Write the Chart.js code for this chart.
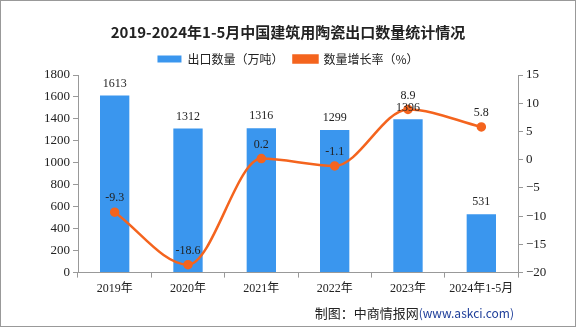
<!DOCTYPE html>
<html>
<head>
<meta charset="utf-8">
<script src="https://cdn.jsdelivr.net/npm/chart.js@4"></script>
<style>
	body { margin: 0; background: #fff; }
	#box { width: 574px; height: 325px; border: 1px solid #999; position: relative; }
</style>
</head>
<body>
<div id="box"><canvas id="grafico" width="574" height="325"></canvas></div>
<script>
var categorias = ["2019年", "2020年", "2021年", "2022年", "2023年", "2024年1-5月"];
var exportacao = [1613, 1312, 1316, 1299, 1396, 531];
var crescimento = [-9.3, -18.6, 0.2, -1.1, 8.9, 5.8];
var ticksEsquerda = [0, 200, 400, 600, 800, 1000, 1200, 1400, 1600, 1800];
var ticksDireita = [-20, -15, -10, -5, 0, 5, 10, 15];

var fonteTick = "Liberation Serif, 'Noto Sans CJK SC', serif";

// rotulos de valor e nota de fonte
var rotulos = {
	id: "rotulos",
	afterDatasetsDraw: function (chart) {
		var ctx = chart.ctx;
		ctx.save();
		ctx.fillStyle = "#222";
		ctx.font = "12px " + fonteTick;
		ctx.textAlign = "center";
		ctx.textBaseline = "bottom";
		chart.getDatasetMeta(0).data.forEach(function (bar, i) {
			ctx.fillText(exportacao[i], bar.x, bar.y - 6);
		});
		chart.getDatasetMeta(1).data.forEach(function (pt, i) {
			ctx.fillText(crescimento[i].toFixed(1), pt.x, pt.y - 8);
		});
		ctx.textAlign = "right";
		ctx.textBaseline = "middle";
		ctx.fillStyle = "#1f3f9a";
		ctx.font = "12px 'Noto Sans CJK SC', sans-serif";
		var w = ctx.measureText("(www.askci.com)").width;
		ctx.fillText("(www.askci.com)", 513, 312);
		ctx.fillStyle = "#222";
		ctx.font = "13px 'Noto Sans CJK SC', sans-serif";
		ctx.fillText("制图：中商情报网", 513 - w, 312);
		ctx.restore();
	}
};

new Chart(document.getElementById("grafico"), {
	type: "bar",
	data: {
		labels: categorias,
		datasets: [
			{
				label: "出口数量（万吨）",
				data: exportacao,
				backgroundColor: "#3a96ee",
				categoryPercentage: 1,
				barPercentage: 0.4,
				yAxisID: "y",
				order: 2
			},
			{
				label: "数量增长率（%）",
				type: "line",
				data: crescimento,
				borderColor: "#f4641e",
				backgroundColor: "#f4641e",
				borderWidth: 2.5,
				pointRadius: 3.5,
				pointHoverRadius: 3.5,
				cubicInterpolationMode: "monotone",
				yAxisID: "y1",
				order: 1
			}
		]
	},
	options: {
		responsive: false,
		animation: false,
		layout: { padding: { top: 0, bottom: 26, left: 0, right: 0 } },
		plugins: {
			title: {
				display: true,
				text: "2019-2024年1-5月中国建筑用陶瓷出口数量统计情况",
				color: "#222",
				font: { size: 15, weight: "bold", family: "'Noto Sans CJK SC', serif" },
				padding: { top: 22, bottom: 2 }
			},
			legend: {
				labels: {
					color: "#222",
					font: { size: 12, family: "'Noto Sans CJK SC', sans-serif" },
					boxWidth: 24,
					boxHeight: 7,
					padding: 10,
					sort: function (a, b) { return a.datasetIndex - b.datasetIndex; }
				}
			},
			tooltip: { enabled: false }
		},
		scales: {
			x: {
				grid: { display: true, drawOnChartArea: false, offset: true, color: "#999", tickLength: 5 },
				border: { color: "#999" },
				ticks: { color: "#222", font: { size: 12, family: fonteTick }, maxRotation: 0, padding: 4 }
			},
			y: {
				position: "left",
				min: 0,
				max: 1800,
				afterBuildTicks: function (axis) {
					axis.ticks = ticksEsquerda.map(function (v) { return { value: v }; });
				},
				afterFit: function (axis) { axis.width = 77; },
				grid: { display: true, drawOnChartArea: false, color: "#999", tickLength: 5 },
				border: { color: "#999" },
				ticks: {
					color: "#222",
					font: { size: 13, family: fonteTick },
					padding: 3,
					callback: function (v) { return String(v); }
				}
			},
			y1: {
				position: "right",
				min: -20,
				max: 15,
				afterBuildTicks: function (axis) {
					axis.ticks = ticksDireita.map(function (v) { return { value: v }; });
				},
				afterFit: function (axis) { axis.width = 57; },
				grid: { display: true, drawOnChartArea: false, color: "#999", tickLength: 5 },
				border: { color: "#999" },
				ticks: {
					color: "#222",
					font: { size: 13, family: fonteTick },
					padding: 3,
					callback: function (v) { return v < 0 ? "−" + Math.abs(v) : String(v); }
				}
			}
		}
	},
	plugins: [rotulos]
});
</script>
</body>
</html>
